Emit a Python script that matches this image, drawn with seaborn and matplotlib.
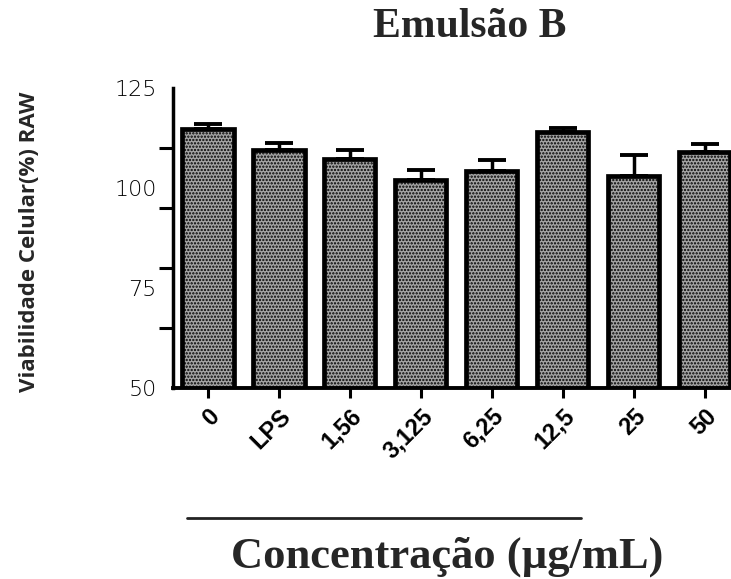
import numpy as np
import pandas as pd
import matplotlib
matplotlib.use("Agg")
import matplotlib.pyplot as plt
from matplotlib.lines import Line2D
import seaborn as sns

# Data
concentracoes = ["0", "LPS", "1,56", "3,125", "6,25", "12,5", "25", "50"]
viabilidade = [114.7, 109.6, 107.2, 102.1, 104.3, 113.9, 103.1, 108.9]
erro_padrao = [1.3, 1.7, 2.2, 2.35, 2.65, 1.0, 5.1, 2.0]
y_rotulos = [50, 75, 100, 125]
y_marcas = [50, 65, 80, 95, 110, 125]

df = pd.DataFrame({"conc": concentracoes, "viab": viabilidade, "erro": erro_padrao})

sns.set_style("white")
plt.rcParams["hatch.linewidth"] = 1.1

fig = plt.figure(figsize=(7.31, 5.79), dpi=100)
ax = fig.add_axes([0.237, 0.330, 0.763, 0.518])

sns.barplot(data=df, x="conc", y="viab", order=concentracoes, errorbar=None,
            color="#a4a4a4", width=0.72, edgecolor="black", linewidth=3.4,
            ax=ax)
for p in ax.patches:
    p.set_hatch(".....")

# only the upper error bar
ax.errorbar(np.arange(len(concentracoes)), df["viab"],
            yerr=[np.zeros(len(df)), df["erro"]], fmt="none",
            ecolor="black", elinewidth=2.5, capsize=10, capthick=2.8, zorder=1)

ax.set_ylim(50, 125)
ax.set_xlim(-0.49, 7.37)

# labelled ticks (no mark) + unlabelled tick marks every 15
ax.set_yticks(y_rotulos)
ax.set_yticklabels([str(v) for v in y_rotulos], fontsize=16,
                   family="DejaVu Sans", fontweight="light", color="black")
ax.set_yticks(y_marcas, minor=True)
ax.tick_params(axis="y", which="major", length=0, pad=12)
ax.tick_params(axis="y", which="minor", length=10, width=2.2, direction="out",
               left=True, color="black")
ax.tick_params(axis="x", length=7, width=2.2, direction="out", bottom=True,
               color="black", pad=5)
ax.set_xticks(range(len(concentracoes)))
ax.set_xticklabels(concentracoes, rotation=45, ha="right",
                   rotation_mode="anchor", fontsize=17, fontweight="bold",
                   family="Liberation Sans", color="black")
for lbl in ax.get_xticklabels():
    lbl.set_x(lbl.get_position()[0])

sns.despine(ax=ax)
ax.spines["left"].set_linewidth(2.5)
ax.spines["bottom"].set_linewidth(2.8)
ax.spines["left"].set_color("black")
ax.spines["bottom"].set_color("black")
ax.set_xlabel("")
ax.set_ylabel("")

fig.text(470 / 731, 1 - 27 / 579, "Emulsão B", ha="center", va="center",
         fontsize=30, fontweight="bold", family="Liberation Serif")
fig.text(447 / 731, 1 - 557 / 579, "Concentração (µg/mL)", ha="center",
         va="center", fontsize=32, fontweight="bold", family="Liberation Serif")
fig.text(30 / 731, 1 - 242 / 579, "Viabilidade Celular(%) RAW", ha="center",
         va="center", rotation=90, fontsize=16, fontweight="bold",
         family="Open Sans")
fig.add_artist(Line2D([187 / 731, 581 / 731], [1 - 518 / 579, 1 - 518 / 579],
                      transform=fig.transFigure, color="#222222", linewidth=2.0))

fig.savefig("out.png", dpi=100)
